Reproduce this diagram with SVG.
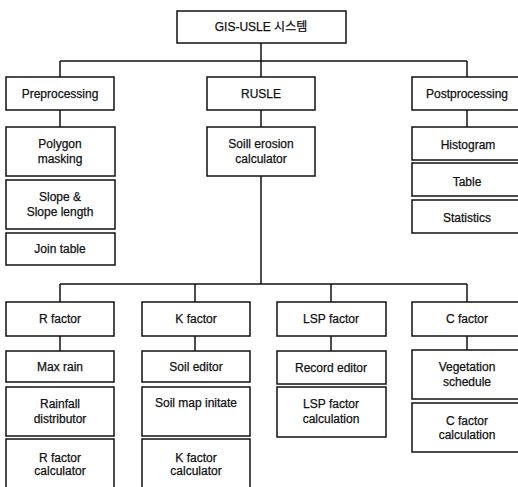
<svg xmlns="http://www.w3.org/2000/svg" width="518" height="487" viewBox="0 0 518 487">
<style>
rect{fill:#fff;stroke:#111;stroke-width:1.5}
text{font-family:"Liberation Sans",Arial,"Noto Sans CJK KR",sans-serif;font-size:12px;fill:#111;stroke:#111;stroke-width:0.25;text-anchor:middle}
.c line{stroke:#111;stroke-width:1.5}
</style>
<rect x="0" y="0" width="518" height="487" style="fill:#fff;stroke:none"/>
<g class="c" id="connectors">
<line x1="261" y1="43" x2="261" y2="77"/>
<line x1="60" y1="61" x2="467" y2="61"/>
<line x1="60" y1="61" x2="60" y2="77"/>
<line x1="467" y1="61" x2="467" y2="77"/>
<line x1="60" y1="110" x2="60" y2="127"/>
<line x1="261" y1="110" x2="261" y2="127"/>
<line x1="467" y1="110" x2="467" y2="127"/>
<line x1="261" y1="176" x2="261" y2="284"/>
<line x1="60" y1="284" x2="467" y2="284"/>
<line x1="60" y1="284" x2="60" y2="302"/>
<line x1="195" y1="284" x2="195" y2="302"/>
<line x1="331" y1="284" x2="331" y2="302"/>
<line x1="467" y1="284" x2="467" y2="302"/>
<line x1="60" y1="336" x2="60" y2="351"/>
<line x1="195" y1="336" x2="195" y2="351"/>
<line x1="331" y1="336" x2="331" y2="351"/>
<line x1="467" y1="336" x2="467" y2="350"/>
</g>
<g id="root"><rect x="177" y="11" width="169" height="32"/><text x="261" y="31">GIS-USLE 시스템</text></g>
<g id="preprocessing"><rect x="6" y="77" width="108" height="33"/><text x="60" y="98">Preprocessing</text></g>
<g id="rusle"><rect x="207" y="77" width="108" height="33"/><text x="261" y="98">RUSLE</text></g>
<g id="postprocessing"><rect x="412" y="77" width="110" height="33"/><text x="467" y="98">Postprocessing</text></g>
<g id="polygon"><rect x="6" y="127" width="109" height="49"/><text x="60" y="148">Polygon</text><text x="60" y="163">masking</text></g>
<g id="slope"><rect x="6" y="180" width="109" height="49"/><text x="60" y="201">Slope &amp;</text><text x="60" y="216">Slope length</text></g>
<g id="join"><rect x="6" y="233" width="109" height="32"/><text x="60" y="253">Join table</text></g>
<g id="soilerosion"><rect x="207" y="127" width="108" height="49"/><text x="261" y="148">Soill erosion</text><text x="261" y="163">calculator</text></g>
<g id="histogram"><rect x="412" y="127" width="110" height="33"/><text x="468" y="149">Histogram</text></g>
<g id="table"><rect x="412" y="163" width="110" height="33"/><text x="467" y="186">Table</text></g>
<g id="statistics"><rect x="412" y="200" width="110" height="33"/><text x="467" y="222">Statistics</text></g>
<g id="rfactor"><rect x="6" y="302" width="108" height="34"/><text x="60" y="323">R factor</text></g>
<g id="kfactor"><rect x="142" y="302" width="108" height="34"/><text x="196" y="323">K factor</text></g>
<g id="lspfactor"><rect x="277" y="302" width="109" height="34"/><text x="331" y="323">LSP factor</text></g>
<g id="cfactor"><rect x="412" y="302" width="110" height="34"/><text x="467" y="323">C factor</text></g>
<g id="maxrain"><rect x="6" y="351" width="108" height="31"/><text x="60" y="371">Max rain</text></g>
<g id="rainfall"><rect x="6" y="387" width="108" height="49"/><text x="60" y="408">Rainfall</text><text x="60" y="423">distributor</text></g>
<g id="rcalc"><rect x="6" y="439" width="108" height="52"/><text x="60" y="462">R factor</text><text x="60" y="475">calculator</text></g>
<g id="soileditor"><rect x="142" y="351" width="108" height="31"/><text x="196" y="371">Soil editor</text></g>
<g id="soilmap"><rect x="142" y="387" width="108" height="49"/><text x="196" y="407">Soil map initate</text></g>
<g id="kcalc"><rect x="142" y="439" width="108" height="52"/><text x="196" y="462">K factor</text><text x="196" y="475">calculator</text></g>
<g id="recordeditor"><rect x="277" y="351" width="109" height="33"/><text x="331" y="372">Record editor</text></g>
<g id="lspcalc"><rect x="277" y="387" width="109" height="50"/><text x="331" y="408">LSP factor</text><text x="331" y="423">calculation</text></g>
<g id="vegetation"><rect x="412" y="350" width="110" height="49"/><text x="467" y="371">Vegetation</text><text x="467" y="386">schedule</text></g>
<g id="ccalc"><rect x="412" y="403" width="110" height="49"/><text x="467" y="425">C factor</text><text x="467" y="439">calculation</text></g>
</svg>
